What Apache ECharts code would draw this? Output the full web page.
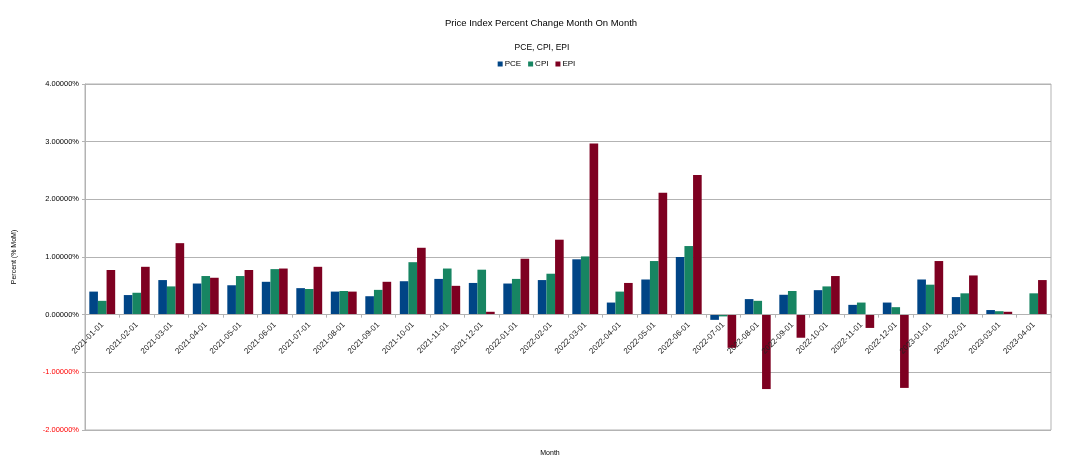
<!DOCTYPE html>
<html>
<head>
<meta charset="utf-8">
<script src="https://cdn.jsdelivr.net/npm/echarts@6/dist/echarts.min.js"></script>
<style>html,body{margin:0;padding:0;background:#fff}#c{width:1073px;height:466px}</style>
</head>
<body>
<div id="c"></div>
<script>
const categories = ['2021-01-01','2021-02-01','2021-03-01','2021-04-01','2021-05-01','2021-06-01','2021-07-01','2021-08-01','2021-09-01','2021-10-01','2021-11-01','2021-12-01','2022-01-01','2022-02-01','2022-03-01','2022-04-01','2022-05-01','2022-06-01','2022-07-01','2022-08-01','2022-09-01','2022-10-01','2022-11-01','2022-12-01','2023-01-01','2023-02-01','2023-03-01','2023-04-01'];
const pce = [0.40,0.34,0.60,0.54,0.51,0.57,0.46,0.40,0.32,0.58,0.62,0.55,0.54,0.60,0.96,0.21,0.61,1.00,-0.09,0.27,0.345,0.425,0.17,0.21,0.61,0.305,0.08,null];
const cpi = [0.24,0.38,0.49,0.67,0.67,0.79,0.445,0.41,0.43,0.91,0.80,0.78,0.62,0.71,1.01,0.40,0.93,1.19,-0.03,0.24,0.41,0.49,0.21,0.13,0.52,0.37,0.06,0.37];
const epi = [0.775,0.83,1.24,0.64,0.775,0.80,0.83,0.40,0.57,1.16,0.50,0.05,0.97,1.30,2.97,0.55,2.115,2.42,-0.575,-1.29,-0.40,0.67,-0.23,-1.27,0.93,0.68,0.05,0.60];
const yTicks = {min:-2, max:4, interval:1};

const gridTop = 84, gridBottom = 36, H = 466;
const plotH = H - gridTop - gridBottom;
const zeroOffset = -plotH * (0 - yTicks.min) / (yTicks.max - yTicks.min);

const chart = echarts.init(document.getElementById('c'), null, {renderer:'canvas'});
const F = 'Liberation Sans, Arial, sans-serif';
chart.setOption({
  animation:false,
  backgroundColor:'#fff',
  title:[
    {text:'Price Index Percent Change Month On Month', left:536, textAlign:'center', top:13, textStyle:{fontFamily:F, fontSize:9.5, fontWeight:'normal', color:'#000'}},
    {text:'PCE, CPI, EPI', left:537, textAlign:'center', top:38, textStyle:{fontFamily:F, fontSize:8.5, fontWeight:'normal', color:'#000'}},
    {text:'Month', left:545, top:445, textAlign:'center', textStyle:{fontFamily:F, fontSize:7, fontWeight:'normal', color:'#000'}}
  ],
  legend:{top:55, left:'center', itemWidth:5, itemHeight:5, itemGap:7, icon:'rect',
    textStyle:{fontFamily:F, fontSize:8, color:'#000', padding:[0,0,0,-3]}, data:['PCE','CPI','EPI']},
  grid:{left:85, right:22, top:gridTop, bottom:gridBottom, show:true, borderColor:'#b3b3b3', borderWidth:1},
  xAxis:{type:'category', data:categories, offset:zeroOffset, z:5,
    axisLine:{onZero:false, lineStyle:{color:'#b3b3b3'}},
    axisTick:{show:true, length:3, lineStyle:{color:'#b3b3b3'}},
    axisLabel:{rotate:45, fontFamily:F, fontSize:8, color:'#222', margin:9, interval:0}},
  yAxis:{type:'value', min:yTicks.min, max:yTicks.max, interval:yTicks.interval,
    name:'Percent (% MoM)', nameLocation:'middle', nameGap:67, nameRotate:90,
    nameTextStyle:{fontFamily:F, fontSize:7, color:'#000'},
    axisLine:{show:true, lineStyle:{color:'#b3b3b3'}},
    axisTick:{show:true, length:3, lineStyle:{color:'#b3b3b3'}},
    splitLine:{lineStyle:{color:'#b3b3b3'}},
    axisLabel:{fontFamily:F, fontSize:7.5, margin:6,
      formatter:v=>v.toFixed(5)+'%',
      color:v=>(v<0?'#ff0000':'#000')}},
  series:[
    {name:'PCE', type:'bar', data:pce, barGap:'0%', barCategoryGap:'25%', itemStyle:{color:'#004586'}},
    {name:'CPI', type:'bar', data:cpi, barGap:'0%', barCategoryGap:'25%', itemStyle:{color:'#178562'}},
    {name:'EPI', type:'bar', data:epi, barGap:'0%', barCategoryGap:'25%', itemStyle:{color:'#7e0021'}}
  ]
});
</script>
</body>
</html>
